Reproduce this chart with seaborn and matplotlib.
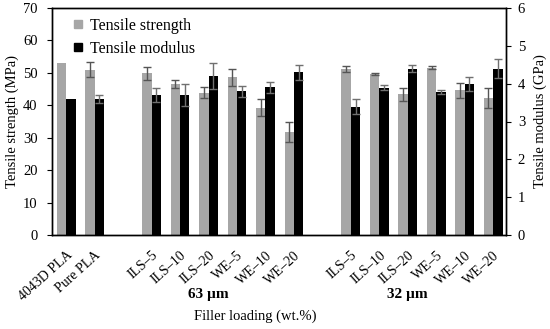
import matplotlib
matplotlib.use("Agg")
import matplotlib.pyplot as plt
from matplotlib.lines import Line2D
import numpy as np
import pandas as pd
import seaborn as sns

# slot labels ("" = empty spacer slot between groups)
labels = ["4043D PLA", "Pure PLA", "",
          "ILS\u20135", "ILS\u201310", "ILS\u201320", "WE\u20135", "WE\u201310", "WE\u201320", "",
          "ILS\u20135", "ILS\u201310", "ILS\u201320", "WE\u20135", "WE\u201310", "WE\u201320"]
strength = [53.0, 50.9, np.nan, 49.9, 46.5, 43.9, 48.7, 39.3, 31.7, np.nan,
            51.2, 49.6, 43.4, 51.6, 44.7, 42.3]
strength_err = [np.nan, 2.3, np.nan, 2.0, 1.2, 1.8, 2.6, 2.7, 3.0, np.nan,
                0.8, 0.4, 2.0, 0.4, 2.3, 3.0]
modulus = [3.6, 3.6, np.nan, 3.70, 3.70, 4.20, 3.80, 3.90, 4.30, np.nan,
           3.39, 3.89, 4.40, 3.79, 3.99, 4.39]
modulus_err = [np.nan, 0.1, np.nan, 0.18, 0.28, 0.35, 0.15, 0.15, 0.2, np.nan,
               0.2, 0.07, 0.09, 0.05, 0.19, 0.25]
groups = ["63 \u00b5m", "32 \u00b5m"]

keys = ["s%d" % i for i in range(len(labels))]
series = ["Tensile strength", "Tensile modulus"]
colors = {"Tensile strength": "#a6a6a6", "Tensile modulus": "#000000"}

df_s = pd.DataFrame({"slot": keys, "value": strength, "series": series[0]}).dropna()
df_m = pd.DataFrame({"slot": keys, "value": modulus, "series": series[1]}).dropna()

plt.rcParams["font.family"] = ["Liberation Serif", "DejaVu Serif"]
fig = plt.figure(figsize=(5.5, 3.29), dpi=100)
ax = fig.add_axes([52 / 550, 1 - 235 / 329, 454 / 550, 227 / 329])
ax2 = ax.twinx()

width = 0.66
sns.barplot(data=df_s, x="slot", y="value", hue="series", order=keys, hue_order=series,
            palette=colors, width=width, gap=0, dodge=True, legend=False, ax=ax,
            errorbar=None, linewidth=0, saturation=1)
sns.barplot(data=df_m, x="slot", y="value", hue="series", order=keys, hue_order=series,
            palette=colors, width=width, gap=0, dodge=True, legend=False, ax=ax2,
            errorbar=None, linewidth=0, saturation=1)

# error bars at the dodged positions
off = width / 4
xs = np.arange(len(keys))
s = np.array(strength); se = np.array(strength_err)
m = np.array(modulus); me = np.array(modulus_err)
ok = ~np.isnan(se)
ax.errorbar(xs[ok] - off, s[ok], yerr=se[ok], fmt="none", ecolor="#555555",
            elinewidth=1, capsize=3, capthick=1)
ok = ~np.isnan(me)
ax2.errorbar(xs[ok] + off, m[ok], yerr=me[ok], fmt="none", ecolor="#707070",
             elinewidth=1, capsize=3, capthick=1)

ax.set_xlim(-0.5, 15.45)
ax.set_ylim(0, 70)
ax.set_yticks(range(0, 71, 10))
ax2.set_ylim(0, 6)
ax2.set_yticks(range(0, 7))
ax.set_xticks(xs)
ax.set_xticklabels(labels, rotation=42, ha="right", rotation_mode="anchor", fontsize=10)
ax.tick_params(axis="x", length=0, pad=10)
ax.tick_params(axis="y", direction="out", length=3.5, pad=7, labelsize=10.5)
ax2.tick_params(axis="y", direction="out", length=3.5, pad=5, labelsize=10.5)
ax.set_xlabel("")
ax2.set_xlabel("")
ax.set_ylabel("Tensile strength (MPa)", fontsize=10.5, labelpad=3)
ax2.set_ylabel("Tensile modulus (GPa)", fontsize=10.5, labelpad=6)
for a in (ax, ax2):
    for sp in a.spines.values():
        sp.set_color("black")
        sp.set_linewidth(1)

trans = matplotlib.transforms.blended_transform_factory(ax.transData, ax.transAxes)
ax.text(5.0, -0.26, groups[0], transform=trans, ha="center", va="center",
        fontsize=11, fontweight="bold")
ax.text(12.0, -0.26, groups[1], transform=trans, ha="center", va="center",
        fontsize=11, fontweight="bold")
fig.text(255 / 550, 1 - 316 / 329, "Filler loading (wt.%)", ha="center", va="center",
         fontsize=10.5)

handles = [Line2D([], [], marker="s", linestyle="", markersize=6,
                  markerfacecolor=colors[k], markeredgecolor=colors[k]) for k in series]
ax.legend(handles, series, loc="upper left", bbox_to_anchor=(0.0, 1.02), frameon=False,
          fontsize=11.5, handletextpad=0.05, labelspacing=0.45, handlelength=1.4)

fig.savefig("out.png", dpi=100)
